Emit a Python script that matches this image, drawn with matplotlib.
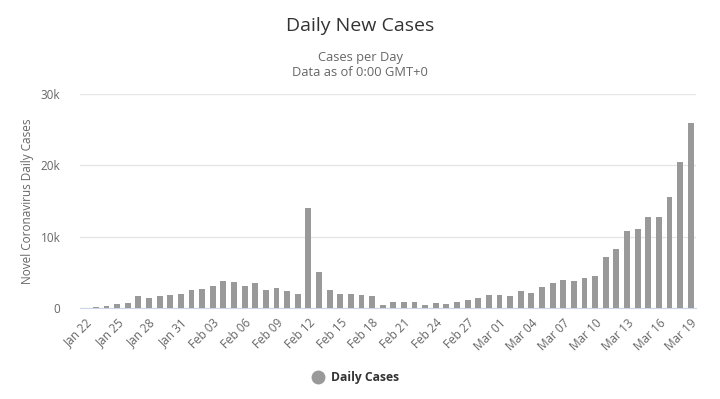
import matplotlib
matplotlib.use("Agg")
import matplotlib.pyplot as plt
import numpy as np
import datetime as dt

plt.rcParams['font.family'] = ['Open Sans', 'DejaVu Sans']

start = dt.date(2020, 1, 22)
dates = [start + dt.timedelta(days=i) for i in range(58)]
date_labels = [d.strftime("%b %d") for d in dates]

daily_cases = [
    20, 100, 280, 600, 750, 1730, 1450, 1730, 1870, 2000,
    2570, 2710, 3130, 3830, 3640, 3130, 3460, 2570, 2850, 2430,
    2000, 14070, 5090, 2570, 2000, 1960, 1870, 1680, 470, 890,
    890, 890, 420, 750, 610, 890, 1170, 1400, 1820, 1820,
    1730, 2380, 2150, 2940, 3550, 3930, 3790, 4210, 4490, 7150,
    8270, 10750, 11030, 12800, 12800, 15560, 20470, 25890,
]

fig = plt.figure(figsize=(7.2, 3.99), dpi=100)
ax = fig.add_axes([80/720, 1 - 308/399, 616/720, 214/399])

x = np.arange(len(daily_cases))
ax.bar(x, daily_cases, width=0.55, color='#999999', zorder=3)
ax.set_xlim(-0.5, len(daily_cases) - 0.5)
ax.set_ylim(0, 30000)
ax.set_yticks([0, 10000, 20000, 30000])
ax.set_yticklabels(['0', '10k', '20k', '30k'])
ax.grid(axis='y', color='#e6e6e6', linewidth=1, zorder=0)
for s in ['top', 'right', 'left']:
    ax.spines[s].set_visible(False)
ax.spines['bottom'].set_color('#ccd6eb')
ax.tick_params(axis='y', length=0, labelsize=8.5, labelcolor='#666666', pad=14)
ax.set_xticks(x[::3])
ax.set_xticklabels(date_labels[::3], rotation=45, ha='right', rotation_mode='anchor')
ax.tick_params(axis='x', length=0, labelsize=8.5, labelcolor='#666666', pad=6)
ax.set_ylabel('Novel Coronavirus Daily Cases', fontsize=8.5, color='#666666')
ax.yaxis.set_label_coords((28 - 80) / 616, 0.5)
ax.yaxis.label.set_va('center')

fig.text(0.5, 1 - 26/399, 'Daily New Cases', ha='center', va='center', fontsize=14, color='#333333')
fig.text(0.5, 1 - 57/399, 'Cases per Day', ha='center', va='center', fontsize=9.3, color='#666666')
fig.text(0.5, 1 - 72/399, 'Data as of 0:00 GMT+0', ha='center', va='center', fontsize=9.3, color='#666666')

fig.lines.append(plt.Line2D([318/720], [1 - 377/399], marker='o', markersize=9, color='#999999',
                            transform=fig.transFigure, linestyle='none'))
fig.text(331/720, 1 - 378/399, 'Daily Cases', ha='left', va='center', fontsize=8.7,
         fontweight='bold', color='#333333')

fig.savefig('out.png', dpi=100, facecolor='white')
